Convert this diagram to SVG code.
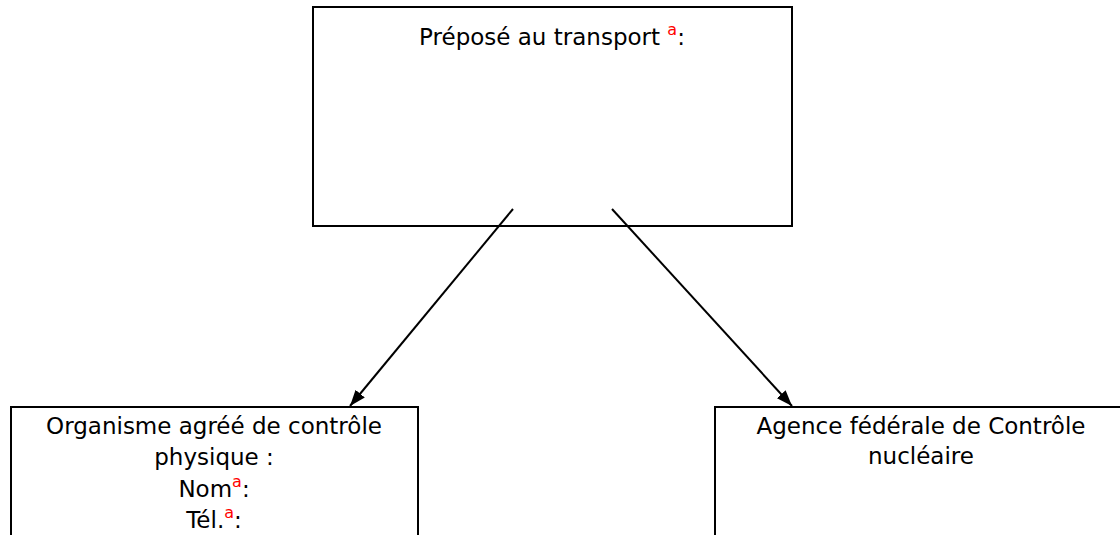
<svg xmlns="http://www.w3.org/2000/svg" width="1120" height="535" viewBox="0 0 1120 535">
<style>
.box{fill:#fff;stroke:#000;stroke-width:2}
.t{font-family:"DejaVu Sans","Liberation Sans",sans-serif;font-size:23px;fill:#000;text-anchor:middle}
.sup{fill:#ff0000;font-size:16px}
.conn{stroke:#000;stroke-width:2;fill:none}
</style>
<defs>
<marker id="arr" viewBox="0 0 16 12" refX="16" refY="6" markerWidth="16" markerHeight="12" markerUnits="userSpaceOnUse" orient="auto">
<path d="M0,0 L16,6 L0,12 z" fill="#000"/>
</marker>
</defs>
<rect width="1120" height="535" fill="#fff"/>
<g id="node-prepose">
<rect class="box" x="313" y="7" width="479" height="219"/>
<text class="t" x="552" y="45">Préposé au transport <tspan class="sup" dy="-10">a</tspan><tspan dy="10">:</tspan></text>
</g>
<g id="node-organisme">
<rect class="box" x="11" y="407" width="407" height="140"/>
<text class="t" x="214" y="434">Organisme agréé de contrôle</text>
<text class="t" x="214" y="465">physique :</text>
<text class="t" x="214" y="497">Nom<tspan class="sup" dy="-10">a</tspan><tspan dy="10">:</tspan></text>
<text class="t" x="214" y="528">Tél.<tspan class="sup" dy="-10">a</tspan><tspan dy="10">:</tspan></text>
</g>
<g id="node-afcn">
<rect class="box" x="715" y="407" width="420" height="140"/>
<text class="t" x="921" y="434">Agence fédérale de Contrôle</text>
<text class="t" x="921" y="464">nucléaire</text>
</g>
<g id="connectors">
<line class="conn" x1="513" y1="209" x2="350" y2="406" marker-end="url(#arr)"/>
<line class="conn" x1="612" y1="209" x2="792" y2="406" marker-end="url(#arr)"/>
</g>
</svg>
